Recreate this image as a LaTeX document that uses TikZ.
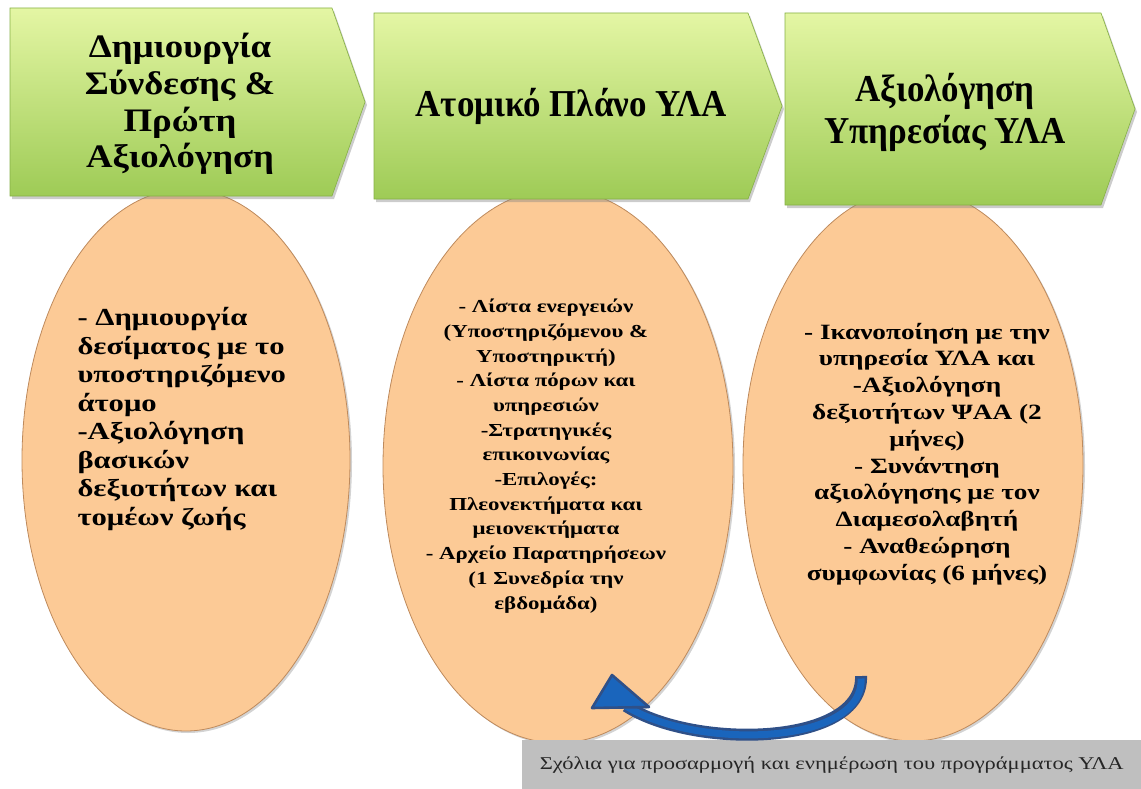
\documentclass[tikz,border=0pt]{standalone}
\usepackage{fontspec}
\setmainfont{Liberation Serif}
\newfontfamily\camb[FakeStretch=1.25]{Liberation Serif}
\newfontfamily\cambh[FakeStretch=1.12]{Liberation Serif}
\newfontfamily\tnr[FakeStretch=0.92]{Liberation Serif}
\usetikzlibrary{shapes.geometric,shadows}
\definecolor{gtop}{HTML}{E4F6A4}
\definecolor{gbot}{HTML}{9ECB56}
\definecolor{gedge}{HTML}{86B046}
\definecolor{peach}{HTML}{FCCA96}
\definecolor{peachedge}{HTML}{BE8A5C}
\definecolor{arrowblue}{HTML}{1A65BC}
\definecolor{arrowdark}{HTML}{2F5088}
\definecolor{boxgrey}{HTML}{BFBFBF}
\tikzset{
  oval/.style={ellipse, fill=peach, draw=peachedge, line width=0.8pt, inner sep=0pt,
    drop shadow={opacity=0.35, shadow xshift=2pt, shadow yshift=-2pt}},
  chevron/.style={top color=gtop, bottom color=gbot, draw=gedge, line width=0.6pt,
    drop shadow={opacity=0.4, shadow xshift=2pt, shadow yshift=-3pt}},
  hdwide/.style={align=center, font=\cambh\bfseries\fontsize{32.8}{36.7}\selectfont, text=black},
  hdnarrow/.style={align=center, font=\tnr\bfseries\fontsize{38}{42}\selectfont, text=black},
  body/.style={font=\camb\bfseries, text=black},
}
\begin{document}
\begin{tikzpicture}[x=1pt,y=-1pt]
\useasboundingbox (0,0) rectangle (1141,789);
% ovals
\node[oval, minimum width=328pt, minimum height=542pt] (e1) at (186,460) {};
\node[oval, minimum width=350pt, minimum height=554pt] (e2) at (558,466) {};
\node[oval, minimum width=340pt, minimum height=552pt] (e3) at (913,465) {};
% chevrons
\path[chevron] (10,8) -- (332,8) -- (365,102) -- (332,196) -- (10,196) -- cycle;
\path[chevron] (374,13) -- (748,13) -- (782,106) -- (748,199) -- (374,199) -- cycle;
\path[chevron] (785,13) -- (1101,13) -- (1135,109) -- (1101,205) -- (785,205) -- cycle;
% headings
\node[hdwide] (h1) at (180,104) {Δημιουργία\\Σύνδεσης \&\\Πρώτη\\Αξιολόγηση};
\node[hdnarrow] (h2) at (571,106) {Ατομικό Πλάνο ΥΛΑ};
\node[hdnarrow] (h3) at (945,112) {Αξιολόγηση\\Υπηρεσίας ΥΛΑ};
% oval texts
\node[body, align=left, anchor=west, font=\camb\bfseries\fontsize{24.5}{28.5}\selectfont] (b1) at (74,419)
 {- Δημιουργία\\δεσίματος με το\\υποστηριζόμενο\\άτομο\\-Αξιολόγηση\\βασικών\\δεξιοτήτων και\\τομέων ζωής};
\node[body, align=center, font=\camb\bfseries\fontsize{18.3}{24.7}\selectfont] (b2) at (546,456)
 {- Λίστα ενεργειών\\(Υποστηριζόμενου \&\\Υποστηρικτή)\\- Λίστα πόρων και\\υπηρεσιών\\-Στρατηγικές\\επικοινωνίας\\-Επιλογές:\\Πλεονεκτήματα και\\μειονεκτήματα\\- Αρχείο Παρατηρήσεων\\(1 Συνεδρία την\\εβδομάδα)};
\node[body, align=center, font=\camb\bfseries\fontsize{21.8}{26.8}\selectfont] (b3) at (927,454)
 {- Ικανοποίηση με την\\υπηρεσία ΥΛΑ και\\-Αξιολόγηση\\δεξιοτήτων ΨΑΑ (2\\μήνες)\\- Συνάντηση\\αξιολόγησης με τον\\Διαμεσολαβητή\\- Αναθεώρηση\\συμφωνίας (6 μήνες)};
% note box
\node[fill=boxgrey, minimum width=619pt, minimum height=49pt, inner sep=0pt, anchor=north west,
  font=\camb\fontsize{18}{22}\selectfont, text=black!85] (note) at (522,740)
  {Σχόλια για προσαρμογή και ενημέρωση του προγράμματος ΥΛΑ};
% feedback arrow
\coordinate (as) at (861,676);
\coordinate (ae) at (626,706);
\draw[line width=12pt, arrowdark] (as) .. controls (864,746) and (695,750) .. (ae);
\draw[line width=7pt, arrowblue, shorten <=2.5pt] (as) .. controls (864,746) and (695,750) .. (ae);
\coordinate (tip) at (612,675);
\filldraw[fill=arrowblue, draw=arrowdark, line width=2.6pt, line join=round]
  (tip) -- (649,707) -- (592,708) -- cycle;
\end{tikzpicture}
\end{document}
